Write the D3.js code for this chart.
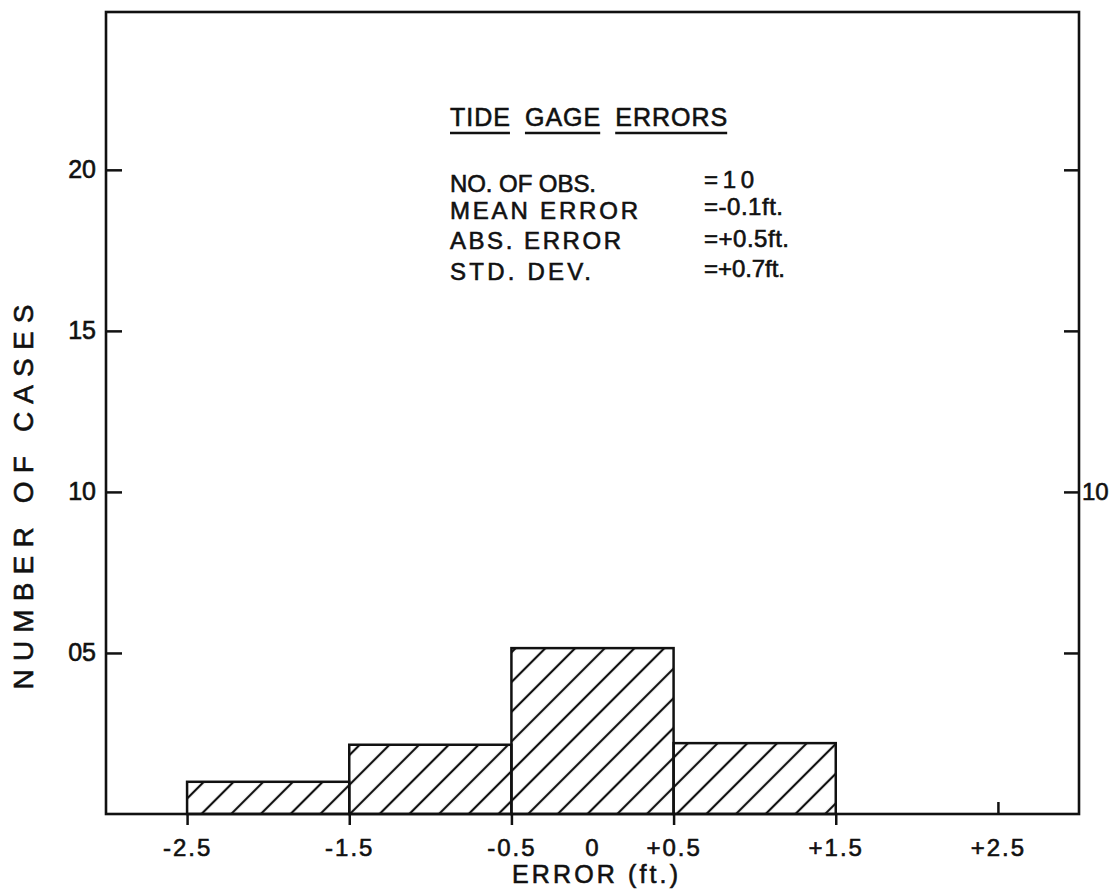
<!DOCTYPE html>
<html>
<head>
<meta charset="utf-8">
<script src="https://cdn.jsdelivr.net/npm/d3@7"></script>
<style>
  body { margin: 0; background: #fff; }
  svg text { font-family: "Liberation Sans", Arial, sans-serif; fill: #111; stroke: #111; stroke-width: 0.6px; }
</style>
</head>
<body>
<svg id="chart" width="1109" height="889"></svg>
<script>
// histogram bins (error in ft.) and number of cases
const binEdges = [-2.5, -1.5, -0.5, 0.5, 1.5];
const binCounts = [1, 2.15, 5.15, 2.2];

// axis ticks and their labels
const xTicks = [-2.5, -1.5, -0.5, 0, 0.5, 1.5, 2.5];
const xTickLabels = ["-2.5", "-1.5", "-0.5", "0", "+0.5", "+1.5", "+2.5"];
const yTicks = [5, 10, 15, 20];
const yTickLabels = ["05", "10", "15", "20"];

// summary block
const titleWords = ["TIDE", "GAGE", "ERRORS"];
const statLabels = ["NO. OF OBS.", "MEAN ERROR", "ABS. ERROR", "STD. DEV."];
const statValues = ["=10", "=-0.1ft.", "=+0.5ft.", "=+0.7ft."];

const svg = d3.select("#chart");
const ink = "#111";

// scales
const x = d3.scaleLinear().domain([-3, 3]).range([106, 1079]);
const y = d3.scaleLinear().domain([0, 24.9]).range([814, 12]);

// hatch pattern for the bars ( / direction )
const defs = svg.append("defs");
defs.append("pattern")
  .attr("id", "hatch")
  .attr("patternUnits", "userSpaceOnUse")
  .attr("width", 21)
  .attr("height", 21)
  .attr("patternTransform", "rotate(45)")
  .append("line")
  .attr("x1", 4).attr("y1", 0)
  .attr("x2", 4).attr("y2", 21)
  .attr("stroke", ink)
  .attr("stroke-width", 2.2);

// bars
const bins = binCounts.map((c, i) => ({ x0: binEdges[i], x1: binEdges[i + 1], n: c }));
svg.append("g")
  .selectAll("rect")
  .data(bins)
  .join("rect")
  .attr("x", d => x(d.x0))
  .attr("y", d => y(d.n))
  .attr("width", d => x(d.x1) - x(d.x0))
  .attr("height", d => y(0) - y(d.n))
  .attr("fill", "url(#hatch)")
  .attr("stroke", ink)
  .attr("stroke-width", 2.5);

// frame
svg.append("rect")
  .attr("x", x(-3)).attr("y", y(24.9))
  .attr("width", x(3) - x(-3))
  .attr("height", y(0) - y(24.9))
  .attr("fill", "none")
  .attr("stroke", ink)
  .attr("stroke-width", 2.6);

// bottom axis
const xAxis = svg.append("g")
  .attr("transform", `translate(0,${y(0)})`)
  .call(d3.axisBottom(x)
    .tickValues(xTicks)
    .tickFormat((d, i) => xTickLabels[i])
    .tickSize(11)
    .tickSizeOuter(0)
    .tickPadding(14));
xAxis.select(".domain").remove();
xAxis.selectAll("line").attr("stroke", ink).attr("stroke-width", 2.5);
xAxis.selectAll(".tick").filter(d => d === 0).select("line").remove();
xAxis.selectAll(".tick").filter(d => d === 2.5).select("line").attr("y2", -12);
xAxis.selectAll("text")
  .attr("font-size", 24)
  .attr("letter-spacing", 2)
  .attr("fill", ink);

// left axis
const yAxis = svg.append("g")
  .attr("transform", `translate(${x(-3)},0)`)
  .call(d3.axisLeft(y)
    .tickValues(yTicks)
    .tickFormat((d, i) => yTickLabels[i])
    .tickSize(-16)
    .tickSizeOuter(0)
    .tickPadding(10));
yAxis.select(".domain").remove();
yAxis.selectAll("line").attr("stroke", ink).attr("stroke-width", 2.5);
yAxis.selectAll("text").attr("font-size", 25).attr("fill", ink);

// right axis, only 10 labelled
const yAxisR = svg.append("g")
  .attr("transform", `translate(${x(3)},0)`)
  .call(d3.axisRight(y)
    .tickValues(yTicks)
    .tickFormat(d => d === 10 ? "10" : "")
    .tickSize(-15)
    .tickSizeOuter(0)
    .tickPadding(3));
yAxisR.select(".domain").remove();
yAxisR.selectAll("line").attr("stroke", ink).attr("stroke-width", 2.5);
yAxisR.selectAll("text").attr("font-size", 24).attr("fill", ink);

// axis titles
svg.append("text")
  .attr("x", 512).attr("y", 883)
  .attr("font-size", 25)
  .attr("textLength", 166)
  .attr("lengthAdjust", "spacing")
  .text("ERROR (ft.)");

svg.append("text")
  .attr("transform", "translate(33,497) rotate(-90)")
  .attr("text-anchor", "middle")
  .attr("font-size", 28)
  .attr("textLength", 385)
  .attr("lengthAdjust", "spacing")
  .text("NUMBER OF CASES");

// title with underlined words
const title = svg.append("g").attr("transform", "translate(450,126)");
let tx = 0;
titleWords.forEach(w => {
  const t = title.append("text")
    .attr("x", tx).attr("y", 0)
    .attr("font-size", 25)
    .attr("letter-spacing", 1)
    .text(w);
  const wdt = t.node().getComputedTextLength();
  title.append("line")
    .attr("x1", tx).attr("x2", tx + wdt - 1)
    .attr("y1", 7).attr("y2", 7)
    .attr("stroke", ink).attr("stroke-width", 2.5);
  tx += wdt + 14;
});

// statistics
const statY = [192, 219, 249, 280];
const statW = [146, 188, 171, 141];
const valY = [188, 215, 247, 277];
const valW = [50, 79, 85, 81];
svg.append("g")
  .selectAll("text")
  .data(statLabels)
  .join("text")
  .attr("x", 450)
  .attr("y", (d, i) => statY[i])
  .attr("font-size", 24)
  .attr("textLength", (d, i) => statW[i])
  .attr("lengthAdjust", "spacing")
  .text(d => d);

svg.append("g")
  .selectAll("text")
  .data(statValues)
  .join("text")
  .attr("x", 704)
  .attr("y", (d, i) => valY[i])
  .attr("font-size", 24)
  .attr("textLength", (d, i) => valW[i])
  .attr("lengthAdjust", "spacing")
  .text(d => d);
</script>
</body>
</html>
